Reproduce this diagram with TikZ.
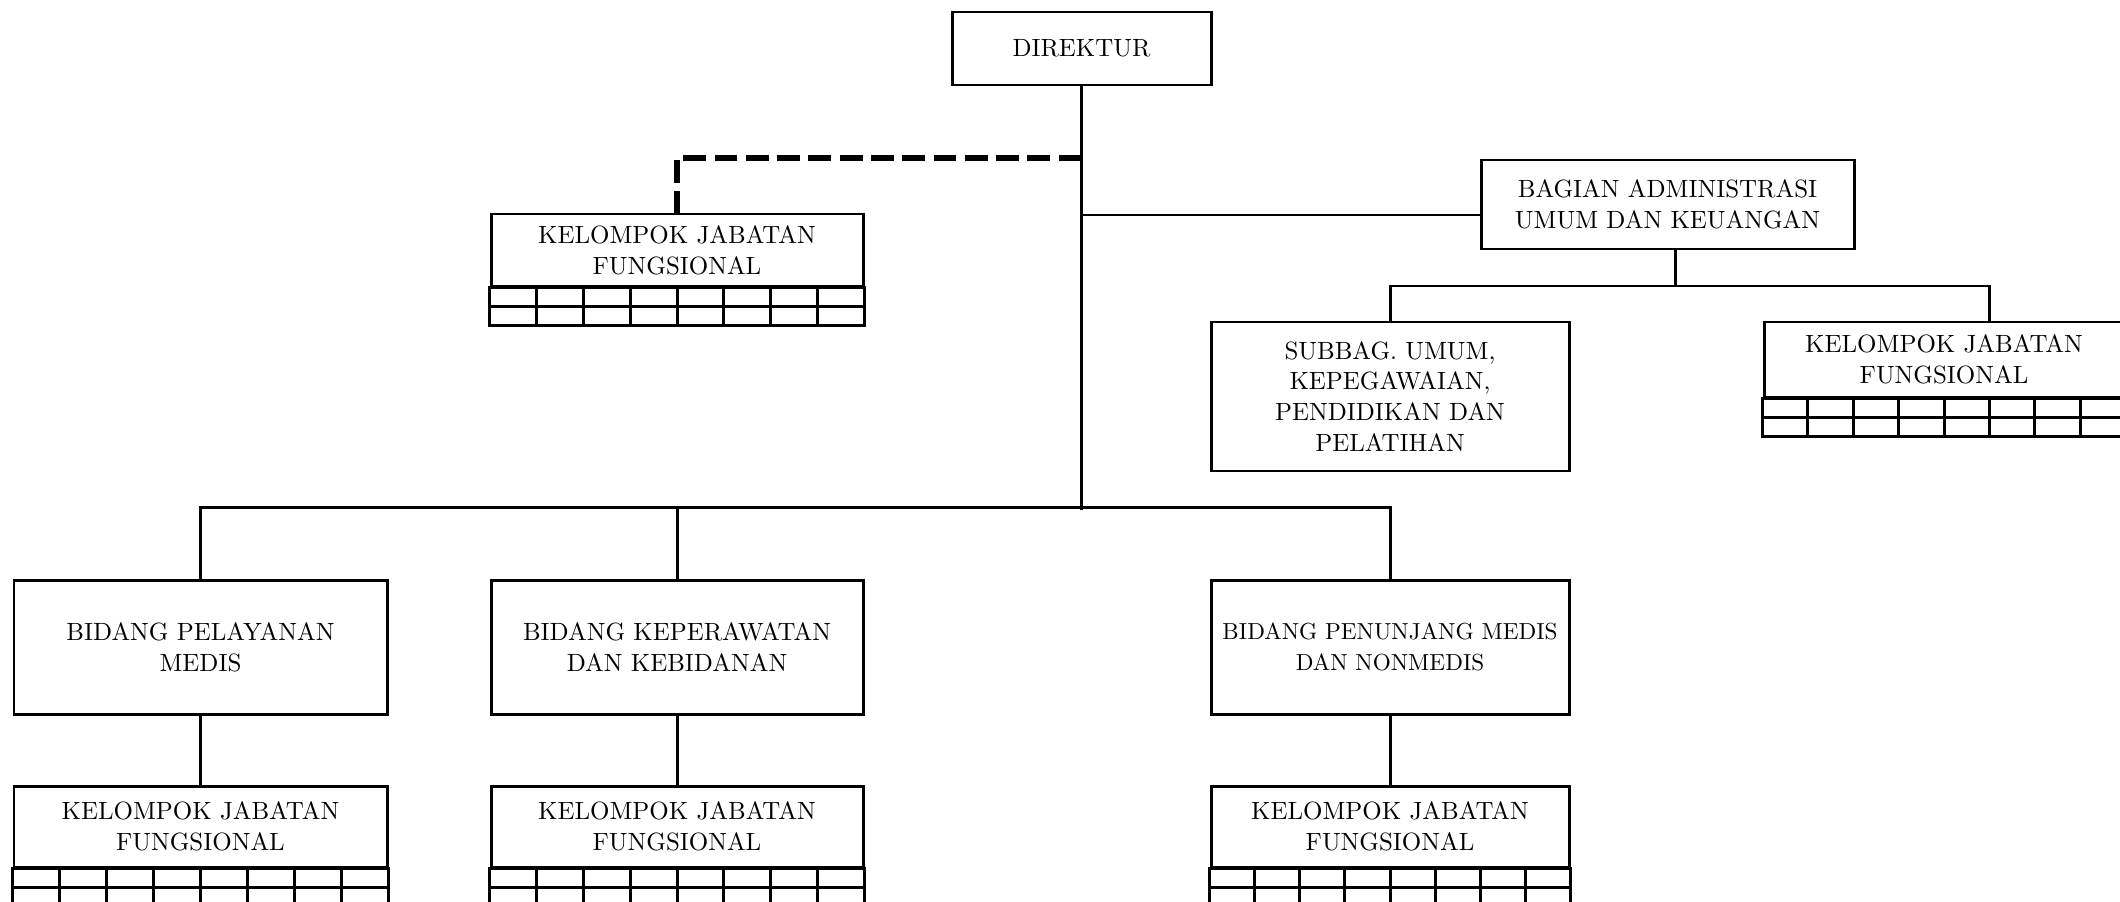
\documentclass[tikz,border=0pt]{standalone}
\usepackage{fontspec}
\usepackage{tikz}
\usetikzlibrary{calc}
\newfontfamily\chartfont{lmroman10-regular.otf}

\begin{document}
\begin{tikzpicture}[
  unitbox/.style={draw, line width=0.85pt, inner sep=0pt, align=center,
    font=\chartfont\fontsize{7.1}{8.8}\selectfont},
  link/.style={line width=0.85pt},
  dashlink/.style={line width=1.6pt, dash pattern=on 6.5pt off 2.4pt},
  gridline/.style={line width=0.85pt}
]
\useasboundingbox (0,0) rectangle (21.2,-9.01);

% pimpinan dan bagian
\node[unitbox, minimum width=2.59cm, minimum height=0.73cm] (dir) at (10.815,-0.485) {DIREKTUR};
\node[unitbox, minimum width=3.72cm, minimum height=0.72cm] (kjfA) at (6.77,-2.50) {KELOMPOK JABATAN\\FUNGSIONAL};
\node[unitbox, minimum width=3.73cm, minimum height=0.89cm] (bag) at (16.675,-2.045) {BAGIAN ADMINISTRASI\\UMUM DAN KEUANGAN};
\node[unitbox, minimum width=3.58cm, minimum height=1.49cm] (sub) at (13.90,-3.965) {SUBBAG. UMUM,\\KEPEGAWAIAN,\\PENDIDIKAN DAN\\PELATIHAN};
\node[unitbox, minimum width=3.60cm, minimum height=0.75cm] (kjfR) at (19.44,-3.595) {KELOMPOK JABATAN\\FUNGSIONAL};

% bidang
\node[unitbox, minimum width=3.73cm, minimum height=1.34cm] (bidA) at (2.005,-6.47) {BIDANG PELAYANAN\\MEDIS};
\node[unitbox, minimum width=3.72cm, minimum height=1.34cm] (bidB) at (6.77,-6.47) {BIDANG KEPERAWATAN\\DAN KEBIDANAN};
\node[unitbox, minimum width=3.58cm, minimum height=1.34cm, font=\chartfont\fontsize{6.6}{8.8}\selectfont] (bidC) at (13.90,-6.47) {BIDANG PENUNJANG MEDIS\\DAN NONMEDIS};

\node[unitbox, minimum width=3.73cm, minimum height=0.81cm] (kjfB) at (2.005,-8.265) {KELOMPOK JABATAN\\FUNGSIONAL};
\node[unitbox, minimum width=3.72cm, minimum height=0.81cm] (kjfC) at (6.77,-8.265) {KELOMPOK JABATAN\\FUNGSIONAL};
\node[unitbox, minimum width=3.58cm, minimum height=0.81cm] (kjfD) at (13.90,-8.265) {KELOMPOK JABATAN\\FUNGSIONAL};

% kotak jabatan fungsional
\foreach \k in {kjfA,kjfR,kjfB,kjfC,kjfD} {
  \draw[gridline] (\k.south west) rectangle ($(\k.south east)+(0,-0.38)$);
  \draw[gridline] ($(\k.south west)+(0,-0.19)$) -- ($(\k.south east)+(0,-0.19)$);
  \foreach \i in {1,...,7}
    \draw[gridline] ($(\k.south west)!\i/8!(\k.south east)$) -- ++(0,-0.38);
}

% garis
\coordinate (dashY) at (0,-1.58);
\coordinate (bagY) at (0,-2.15);
\coordinate (subY) at (0,-2.86);
\coordinate (busY) at (0,-5.07);
\coordinate (bagfoot) at ($(bag.south)+(0.08,0)$);
\coordinate (kjfRtop) at ($(kjfR.north)+(0.45,0)$);

\draw[link] (dir.south) -- ($(dir.south |- busY)+(0,-0.03)$);
\draw[dashlink] (dir.south |- dashY) -| (kjfA.north);
\draw[link] (dir.south |- bagY) -- (bag.west |- bagY);
\draw[link] (bagfoot) -- (bagfoot |- subY);
\draw[link] (sub.north) -- (sub.north |- subY) -- (kjfRtop |- subY) -- (kjfRtop);
\draw[link] (bidA.north) -- (bidA.north |- busY) -- (bidC.north |- busY) -- (bidC.north);
\draw[link] (bidB.north) -- (bidB.north |- busY);
\draw[link] (bidA.south) -- (kjfB.north);
\draw[link] (bidB.south) -- (kjfC.north);
\draw[link] (bidC.south) -- (kjfD.north);
\end{tikzpicture}
\end{document}
